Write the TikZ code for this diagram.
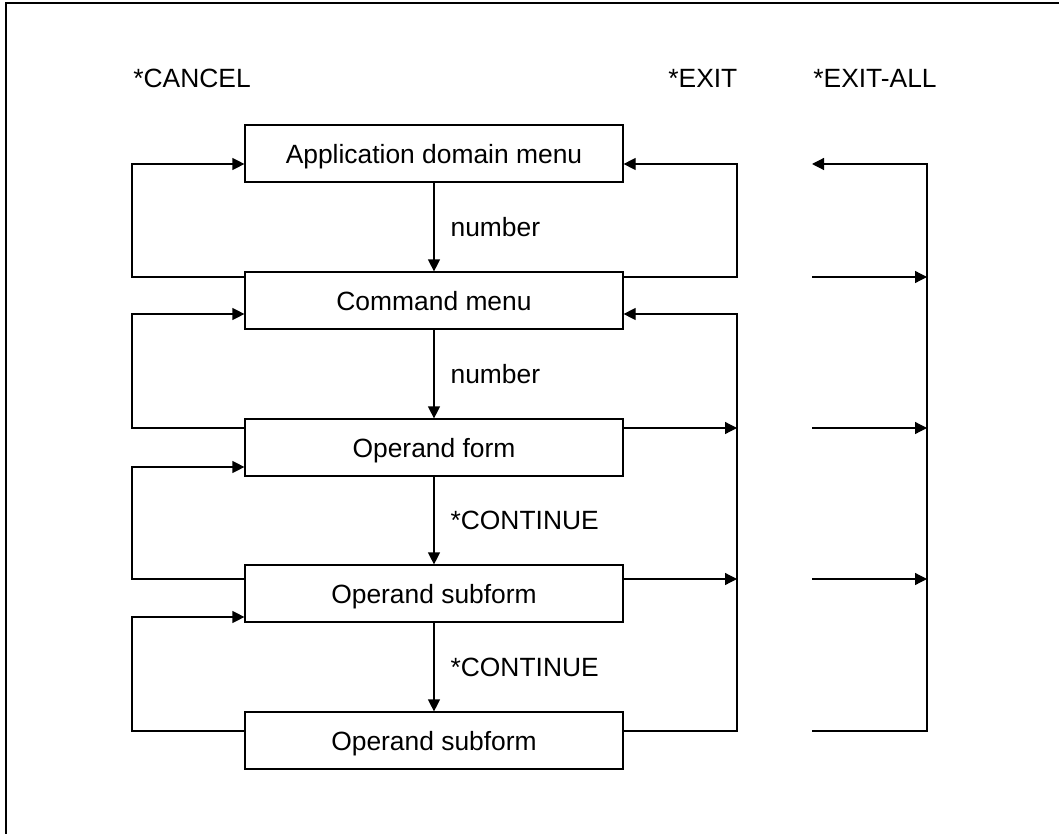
\documentclass[tikz,border=0pt]{standalone}
\usepackage{fontspec}
\setmainfont{Liberation Sans}
\usetikzlibrary{arrows.meta}
\begin{document}
\begin{tikzpicture}[x=0.5pt, y=-0.5pt, font=\fontsize{13.2}{15}\selectfont,
  box/.style={shape=rectangle, draw=black, line width=0.6pt, minimum width=189pt, minimum height=28.5pt, inner sep=0pt, text height=10pt, text depth=0pt},
  flow/.style={-{Triangle[length=6pt, width=6pt]}, line width=0.6pt, draw=black},
  head/.style={anchor=base west, inner sep=0pt},
  lbl/.style={right=8pt, inner sep=0pt}]
\useasboundingbox (0,0) rectangle (1059,834);
\draw[line width=0.7pt] (6,834) -- (6,3) -- (1059,3);
\node[head] (cancel) at (133,88) {*CANCEL};
\node[head] (exit) at (668,88) {*EXIT};
\node[head] (exitall) at (813,88) {*EXIT-ALL};
\node[box] (b1) at (434,153.5) {Application domain menu};
\node[box] (b2) at (434,300.5) {Command menu};
\node[box] (b3) at (434,447.5) {Operand form};
\node[box] (b4) at (434,593.5) {Operand subform};
\node[box] (b5) at (434,740.5) {Operand subform};
\foreach \y [count=\i] in {164,314,467,617} \coordinate (i\i) at (132,\y);
\foreach \y [count=\i from 2] in {277,428,579,731} \coordinate (o\i) at (132,\y);
\coordinate (exitrail) at (737,0);
\coordinate (allrail) at (927,0);
\coordinate (allstart) at (812,0);
\path [flow] (b1) edge node[lbl] {number} (b2);
\path [flow] (b2) edge node[lbl] {number} (b3);
\path [flow] (b3) edge node[lbl] {*CONTINUE} (b4);
\path [flow] (b4) edge node[lbl] {*CONTINUE} (b5);
\foreach \i [evaluate=\i as \j using int(\i+1)] in {1,...,4}
  \draw[flow] (b\j.west |- o\j) -- (o\j) -- (i\i) -- (b\i.west |- i\i);
\draw[flow] (b2.east |- o2) -- (exitrail |- o2) -- (exitrail |- i1) -- (b1.east |- i1);
\draw[flow] (b5.east |- o5) -- (exitrail |- o5) -- (exitrail |- i2) -- (b2.east |- i2);
\draw[flow] (b3.east |- o3) -- (exitrail |- o3);
\draw[flow] (b4.east |- o4) -- (exitrail |- o4);
\draw[flow] (allstart |- o5) -- (allrail |- o5) -- (allrail |- i1) -- (allstart |- i1);
\foreach \j in {2,3,4}
  \draw[flow] (allstart |- o\j) -- (allrail |- o\j);
\end{tikzpicture}
\end{document}
